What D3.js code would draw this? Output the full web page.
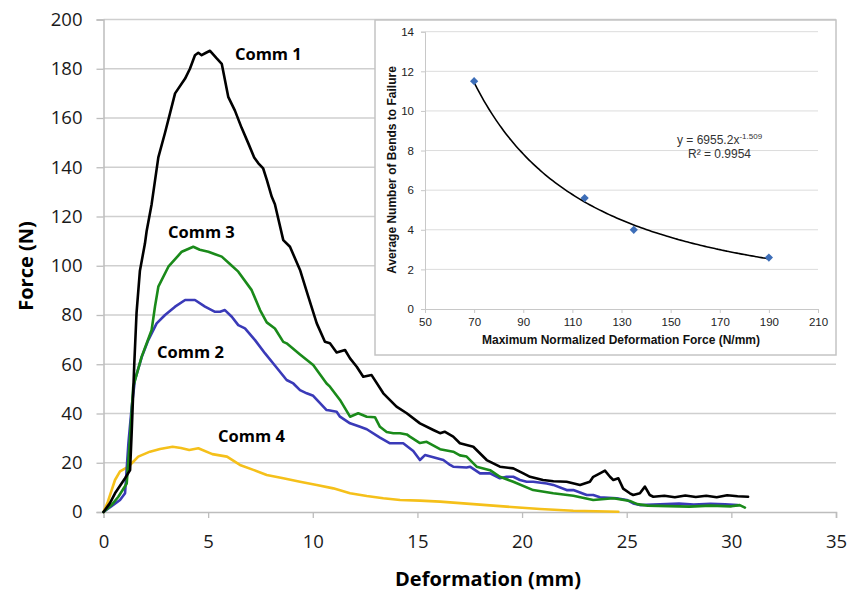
<!DOCTYPE html>
<html><head><meta charset="utf-8">
<script src="https://cdn.jsdelivr.net/npm/d3@7"></script>
<style>body{margin:0;background:#fff}svg{display:block}</style>
</head><body>
<svg id="chart" width="850" height="592"></svg>
<script>
// ---------- Main chart data (Deformation mm, Force N) ----------
const comm1 = [[0,0],[0.3,3.5],[0.55,7.6],[1.03,13.7],[1.27,17],[1.35,33],[1.47,60],[1.58,81],[1.74,98],[1.98,109],[2.06,114],[2.3,125],[2.62,144],[2.94,154],[3.18,162],[3.42,170],[3.9,176],[4.13,180],[4.37,185.5],[4.53,186.5],[4.69,185.5],[4.9,186.5],[5.09,187.3],[5.41,184.2],[5.65,182],[5.96,168.6],[6.28,163],[6.6,156],[6.92,149.7],[7.2,144],[7.4,141.6],[7.63,139.5],[7.8,135],[8.04,128],[8.19,125],[8.59,110.4],[8.91,107.7],[9.39,98.3],[9.79,87.4],[10.19,76.6],[10.58,69.1],[10.82,68.5],[11.14,64.8],[11.54,65.8],[11.78,62.4],[12.1,59],[12.41,54.9],[12.81,55.6],[13.37,48.2],[14.0,42.8],[14.49,40.1],[15.12,36],[15.76,33.3],[16.08,32],[16.3,32.6],[16.71,30.6],[17.03,27.9],[17.67,26.5],[18.31,21.1],[18.94,18.4],[19.58,17.7],[20.06,15.7],[20.38,14.3],[21.0,13],[21.5,12.5],[22.13,12.3],[22.77,11],[23.24,12.3],[23.4,14.3],[23.72,15.7],[23.96,16.8],[24.2,14.3],[24.36,13],[24.6,13.7],[24.83,9.5],[25.15,7.6],[25.31,6.9],[25.63,7.6],[25.87,10.3],[26.1,6.9],[26.27,6.2],[26.8,6.6],[27.3,6.0],[27.8,6.7],[28.3,6.1],[28.8,6.6],[29.3,6.0],[29.8,6.8],[30.3,6.4],[30.8,6.2]];
const comm2 = [[0,0],[0.4,2.5],[0.79,4.9],[1.03,7.6],[1.19,27.9],[1.35,42.8],[1.5,53.6],[1.83,63],[2.14,69.8],[2.54,76.6],[2.94,80],[3.42,83.4],[3.9,86.1],[4.37,86.1],[4.85,83.4],[5.33,81.3],[5.57,81.3],[5.8,82],[6.13,79.3],[6.44,75.9],[6.76,74.6],[7.24,69.8],[7.72,64.4],[8.19,59.5],[8.75,53.6],[9.07,52.2],[9.39,49.5],[9.71,48.2],[10.02,47.2],[10.66,41.4],[10.82,41.2],[11.14,40.7],[11.3,38.7],[11.78,36],[12.26,34.6],[12.58,33.6],[13.21,30.2],[13.69,27.9],[14.32,27.9],[14.8,24.8],[15.12,21.1],[15.36,23.1],[15.76,22.2],[16.24,21.1],[16.56,19.1],[16.71,18.4],[17.35,18.1],[17.51,18.4],[17.99,15.7],[18.47,15.7],[18.94,13.7],[19.26,14.3],[19.58,14.3],[19.9,13],[20.22,12.3],[20.53,12.3],[21.18,11.6],[21.49,11],[22.13,8.9],[22.45,8.9],[23.09,6.9],[23.4,6.9],[23.72,6.0],[24.52,5.6],[25.0,4.9],[25.31,3.5],[25.63,2.8],[26.9,3.2],[27.5,3.4],[28.2,3.0],[29,3.3],[29.7,3.1],[30.3,2.8]];
const comm3 = [[0,0],[0.4,3],[0.71,6.2],[1.11,11.6],[1.27,30.6],[1.42,50.9],[1.82,63],[2.3,73.9],[2.46,83.4],[2.62,91.5],[3.1,99.6],[3.74,105.7],[4.29,107.7],[4.6,106.5],[5.01,105.7],[5.3,104.8],[5.65,103.7],[6.0,101],[6.44,97.6],[7.08,90.1],[7.48,82],[7.8,77],[8.19,74.5],[8.59,69.1],[8.75,68.5],[9.39,64],[10.02,59.7],[10.66,52.2],[10.82,50.9],[11.3,45.5],[11.78,38.7],[12.17,40.1],[12.58,38.7],[12.97,38.5],[13.21,34.6],[13.53,32.5],[13.85,32],[14.17,32],[14.49,31.5],[14.64,30.6],[15.12,28],[15.44,28.5],[16.08,25.5],[16.71,24.5],[17.03,23],[17.35,22.5],[17.83,18.4],[18.47,17],[18.94,14.3],[19.58,12.3],[20.53,8.9],[21.49,7.6],[22.45,6.6],[23.4,4.9],[24.36,5.6],[25.15,4.5],[25.5,3.2],[26,2.6],[27,2.4],[28,2.2],[29,2.6],[30,2.3],[30.4,2.8],[30.65,1.8]];
const comm4 = [[0,0],[0.2,4],[0.39,8.9],[0.55,13],[0.79,16.5],[1.19,18.4],[1.42,20.4],[1.66,22.5],[2.22,24.5],[2.7,25.6],[3.3,26.5],[3.7,26],[4.1,25.2],[4.53,25.9],[5.2,23.5],[5.9,22.5],[6.52,19.1],[7.16,17.1],[7.8,15],[8.59,13.7],[9.39,12.3],[10.19,11],[10.98,9.6],[11.78,7.6],[12.58,6.5],[13.37,5.6],[14.17,4.9],[15.12,4.6],[16.08,4.2],[17.67,3.2],[19.26,2.2],[20.86,1.2],[22.45,0.5],[24.6,0.1]];
const seriesNames = ["Comm 1","Comm 2","Comm 3","Comm 4"];
const seriesColors = ["#000000","#3a3ab8","#1a8a1a","#f5c01a"];
const xTicks = [0,5,10,15,20,25,30,35];
const yTicks = [0,20,40,60,80,100,120,140,160,180,200];
// label anchor points (left edge, baseline) in data coords
const labelPos = [[6.28,183.5],[2.56,62.5],[3.08,111.2],[5.47,28.4]];

// ---------- Inset data ----------
const insetX = [70,115,135,190];
const insetY = [11.5,5.6,4.0,2.6];
const insetXTicks = [50,70,90,110,130,150,170,190,210];
const insetYTicks = [0,2,4,6,8,10,12,14];
const fitA = 6955.2, fitB = -1.509;

const svg = d3.select("#chart");
const FONT = "'Open Sans', sans-serif";
const x = d3.scaleLinear().domain([0,35]).range([103.5,836]);
const y = d3.scaleLinear().domain([0,200]).range([512,19.5]);

// gridlines
svg.append("g").selectAll("line").data(yTicks.filter(d=>d>0)).join("line")
  .attr("x1",x(0)).attr("x2",x(35)).attr("y1",d=>y(d)).attr("y2",d=>y(d))
  .attr("stroke","#cfcfcf").attr("stroke-width",1.3);

const yAxis = svg.append("g").attr("transform",`translate(${x(0)},0)`)
  .call(d3.axisLeft(y).tickValues(yTicks).tickSize(7).tickPadding(14).tickFormat(d3.format("d")));
const xAxis = svg.append("g").attr("transform",`translate(0,${y(0)})`)
  .call(d3.axisBottom(x).tickValues(xTicks).tickSize(6).tickPadding(17).tickFormat(d3.format("d")));
[yAxis,xAxis].forEach(g=>{
  g.select(".domain").attr("stroke","#bdbdbd").attr("stroke-width",1.5);
  g.selectAll(".tick line").attr("stroke","#bdbdbd").attr("stroke-width",1.3);
  g.selectAll("text").attr("font-family",FONT).attr("font-size",18.5).attr("fill","#1a1a1a");
});

// lines
const line = d3.line().x(d=>x(d[0])).y(d=>y(d[1]));
const allSeries = [comm1,comm2,comm3,comm4];
[3,1,2,0].forEach(i=>{
  svg.append("path").datum(allSeries[i]).attr("d",line)
    .attr("fill","none").attr("stroke",seriesColors[i]).attr("stroke-width",2.6)
    .attr("stroke-linejoin","round").attr("stroke-linecap","round");
});
seriesNames.forEach((n,i)=>{
  svg.append("text").attr("x",x(labelPos[i][0])).attr("y",y(labelPos[i][1]))
    .attr("font-family",FONT).attr("font-weight","bold").attr("font-size",16.5)
    .attr("fill","#000").text(n);
});

// axis titles
svg.append("text").attr("transform","translate(33,266) rotate(-90)").attr("text-anchor","middle")
  .attr("font-family",FONT).attr("font-weight","bold").attr("font-size",20).text("Force (N)");
svg.append("text").attr("x",488).attr("y",586).attr("text-anchor","middle")
  .attr("font-family",FONT).attr("font-weight","bold").attr("font-size",20).text("Deformation (mm)");

// ---------- Inset ----------
const IF = "'Liberation Sans', Arial, sans-serif";
const ins = svg.append("g");
ins.append("rect").attr("x",375).attr("y",20).attr("width",461).attr("height",335)
  .attr("fill","#fff").attr("stroke","#c4c4c4").attr("stroke-width",1.5);
const ix = d3.scaleLinear().domain([50,210]).range([425,818]);
const iy = d3.scaleLinear().domain([0,14]).range([309,31.7]);
ins.append("g").selectAll("line").data(insetYTicks.filter(d=>d>0)).join("line")
  .attr("x1",ix(50)).attr("x2",ix(210)).attr("y1",d=>iy(d)).attr("y2",d=>iy(d))
  .attr("stroke","#dcdcdc").attr("stroke-width",1);
const iya = ins.append("g").attr("transform",`translate(${ix(50)},0)`)
  .call(d3.axisLeft(iy).tickValues(insetYTicks).tickSize(4).tickPadding(7));
const ixa = ins.append("g").attr("transform",`translate(0,${iy(0)})`)
  .call(d3.axisBottom(ix).tickValues(insetXTicks).tickSize(4).tickPadding(5));
[iya,ixa].forEach(g=>{
  g.select(".domain").attr("stroke","#c8c8c8");
  g.selectAll(".tick line").attr("stroke","#c8c8c8");
  g.selectAll("text").attr("font-family",IF).attr("font-size",11.5).attr("fill","#222");
});
// trend line
const fitPts = d3.range(70,190.01,1).map(v=>[v,fitA*Math.pow(v,fitB)]);
ins.append("path").datum(fitPts)
  .attr("d",d3.line().x(d=>ix(d[0])).y(d=>iy(d[1])).curve(d3.curveBasis))
  .attr("fill","none").attr("stroke","#000").attr("stroke-width",1.6);
// markers (square rotated 45deg = diamond)
ins.append("g").selectAll("path").data(insetX.map((v,i)=>[v,insetY[i]])).join("path")
  .attr("d",d3.symbol(d3.symbolSquare,34))
  .attr("transform",d=>`translate(${ix(d[0])},${iy(d[1])}) rotate(45)`)
  .attr("fill","#3d6eb8");
// equation
const eq = ins.append("text").attr("x",677).attr("y",144).attr("font-family",IF).attr("font-size",12).attr("fill","#333");
eq.append("tspan").text("y = 6955.2x");
eq.append("tspan").attr("dy",-5).attr("font-size",8).text("-1.509");
ins.append("text").attr("x",688).attr("y",158).attr("font-family",IF).attr("font-size",12).attr("fill","#333").text("R² = 0.9954");
// inset titles
ins.append("text").attr("x",621).attr("y",344).attr("text-anchor","middle")
  .attr("font-family",IF).attr("font-weight","bold").attr("font-size",12).attr("fill","#111")
  .text("Maximum Normalized Deformation Force (N/mm)");
ins.append("text").attr("transform","translate(396,170) rotate(-90)").attr("text-anchor","middle")
  .attr("font-family",IF).attr("font-weight","bold").attr("font-size",12).attr("fill","#111")
  .text("Average Number of Bends to Failure");
</script>
</body></html>
